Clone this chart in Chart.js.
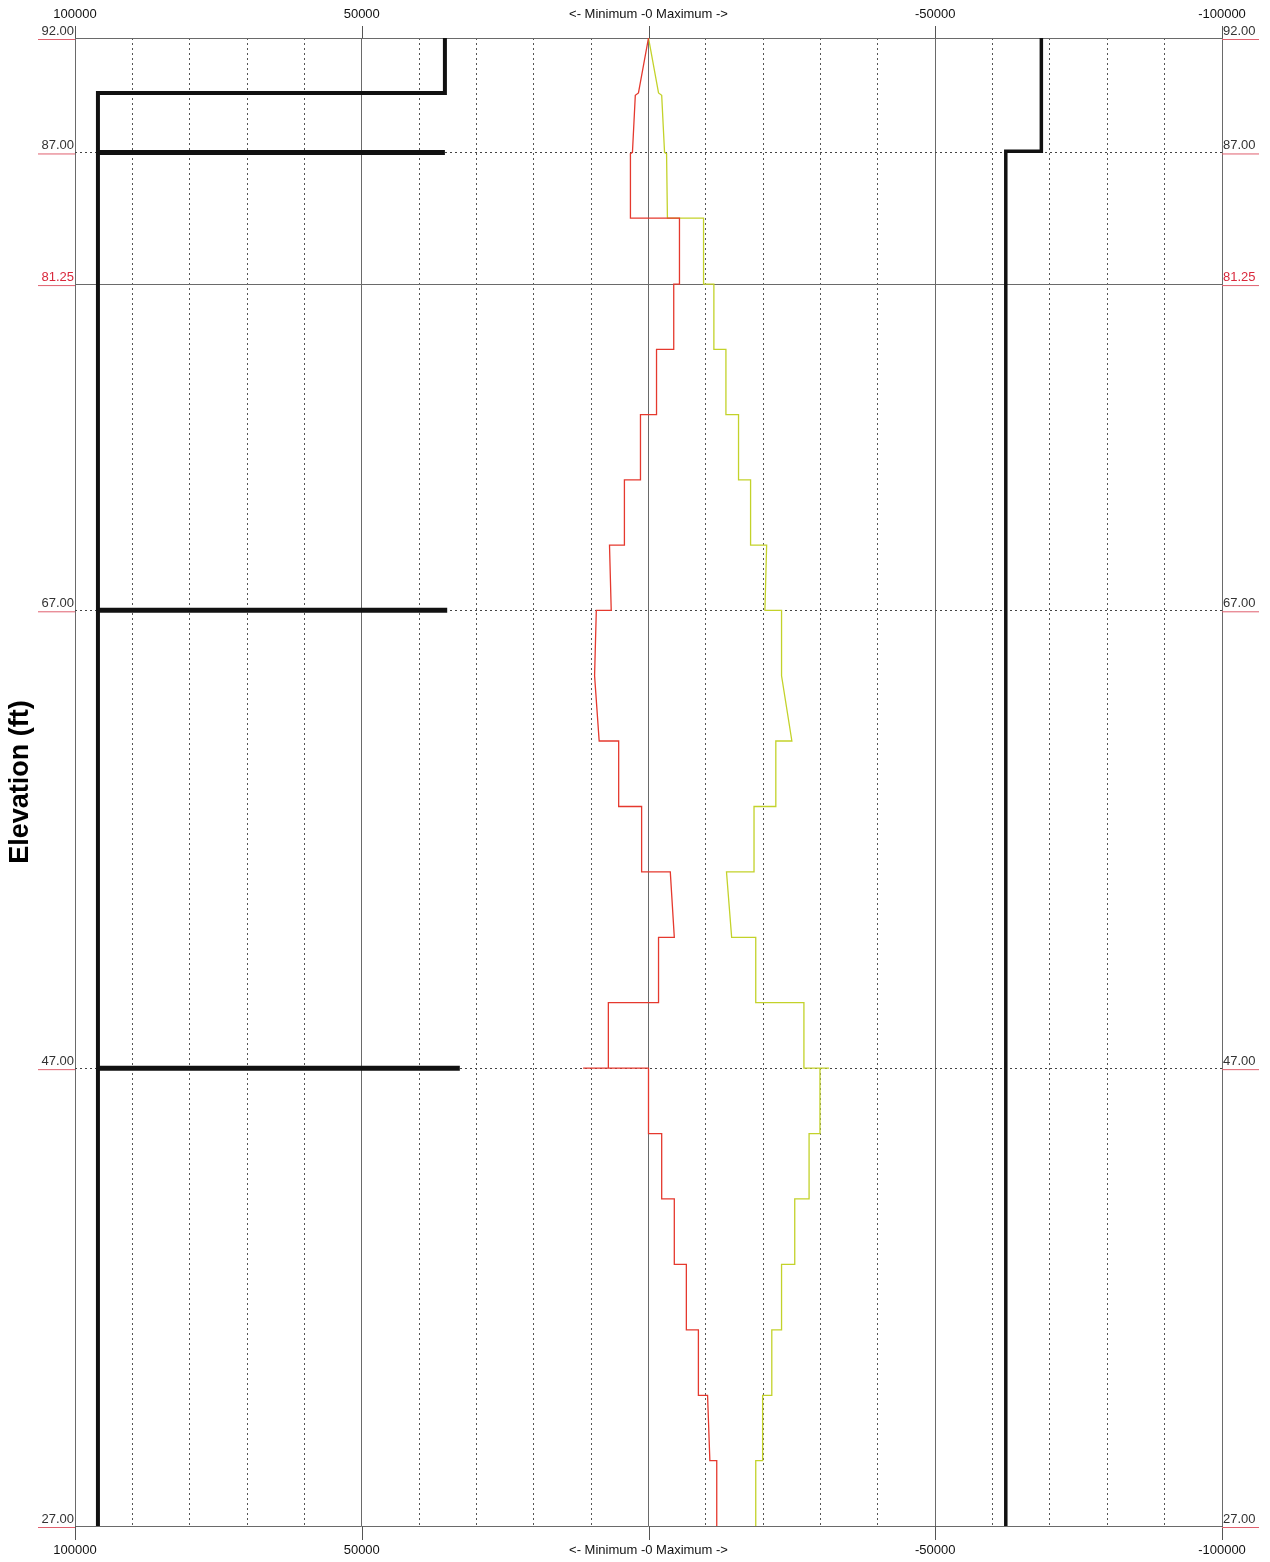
<!DOCTYPE html>
<html lang="en">
<head>
<meta charset="UTF-8">
<title>Elevation (ft)</title>
<script src="https://cdn.jsdelivr.net/npm/chart.js"></script>
<style>
  body { margin: 0; background: #fff; }
  .wrap { position: relative; width: 1270px; height: 1562px; }
</style>
</head>
<body>
<div class="wrap"><canvas id="chart"></canvas></div>
<script>
// axis ticks
const elevTicks = [27, 47, 67, 81.25, 87, 92];
const solidElev = [27, 81.25, 92];
const redElev = [81.25];
const xLabelTicks = [100000, 50000, 0, -50000, -100000];

// minimum envelope (red)
const minVal = [0, 1750, 2300, 2800, 3150, 3150, -5400, -5400, -4400, -4400, -1400, -1400, 1400, 1400,
  4200, 4200, 6800, 6500, 9100, 9400, 8600, 5200, 5200, 1200, 1200, -3800, -4500, -1750, -1750,
  7000, 7000, 11400, 0, 0, -2300, -2300, -4500, -4500, -6600, -6600, -8700, -8700, -10300, -10700,
  -11900, -11900];
const minElev = [92, 89.6, 89.5, 87, 86.95, 84.13, 84.13, 81.25, 81.25, 78.4, 78.4, 75.55, 75.55, 72.7,
  72.7, 69.85, 69.85, 67, 67, 64.14, 61.29, 61.29, 58.43, 58.43, 55.57, 55.57, 52.71, 52.71, 49.86,
  49.86, 47, 47, 47, 44.14, 44.14, 41.29, 41.29, 38.43, 38.43, 35.57, 35.57, 32.71, 32.71, 29.86,
  29.86, 27];

// maximum envelope (yellow-green)
const maxVal = [0, -1750, -2300, -2800, -3150, -3300, -9600, -9600, -11400, -11400, -13500, -13500,
  -15700, -15700, -17800, -17800, -20600, -20300, -23200, -23200, -25000, -22200, -22200, -18400,
  -18400, -13600, -14500, -18700, -18700, -27100, -27100, -31500, -29900, -29900, -28000, -28000,
  -25500, -25500, -23200, -23200, -21500, -21500, -19900, -19900, -18700, -18700];
const maxElev = [92, 89.6, 89.5, 87, 86.95, 84.13, 84.13, 81.25, 81.25, 78.4, 78.4, 75.55,
  75.55, 72.7, 72.7, 69.85, 69.85, 67, 67, 64.14, 61.29, 61.29, 58.43, 58.43,
  55.57, 55.57, 52.71, 52.71, 49.86, 49.86, 47, 47, 47, 44.14, 44.14, 41.29,
  41.29, 38.43, 38.43, 35.57, 35.57, 32.71, 32.71, 29.86, 29.86, 27];

// structure outlines (black)
const leftVal = [35500, 35500, 96000, 96000];
const leftElev = [92, 89.6, 89.6, 27];
const rightVal = [-68500, -68500, -62300, -62300];
const rightElev = [92, 87.05, 87.05, 27];
const barElev = [87, 67, 47];
const barStart = [96000, 96000, 96000];
const barEnd = [35500, 35100, 32900];

const pts = (xs, ys) => xs.map((v, i) => ({ x: v, y: ys[i] }));

const line = (data, color, width) => ({
    data: data,
    showLine: true,
    borderColor: color,
    borderWidth: width,
    pointRadius: 0,
    borderJoinStyle: 'miter',
    tension: 0
});

const datasets = [
    line(pts(minVal, minElev), '#e5392e', 1.3),
    line(pts(maxVal, maxElev), '#c3d22a', 1.3),
    line(pts(leftVal, leftElev), '#111', 4),
    line(pts(rightVal, rightElev), '#111', 3.5)
];
barElev.forEach((e, i) => {
    datasets.push(line(pts([barStart[i], barEnd[i]], [e, e]), '#111', 5));
});

const font = '"Liberation Sans", Arial, sans-serif';

const overlay = {
    id: 'overlay',
    afterDraw(chart) {
        const { ctx, chartArea: a, scales: { x, y } } = chart;
        ctx.save();

        // tick marks outside the frame
        ctx.strokeStyle = '#555';
        ctx.lineWidth = 1;
        xLabelTicks.forEach(v => {
            const px = Math.round(x.getPixelForValue(v)) + 0.5;
            ctx.beginPath();
            ctx.moveTo(px, a.top - 12);
            ctx.lineTo(px, a.top);
            ctx.moveTo(px, a.bottom);
            ctx.lineTo(px, a.bottom + 14);
            ctx.stroke();
        });

        // x labels, top and bottom
        ctx.font = '13px ' + font;
        ctx.fillStyle = '#111';
        ctx.textAlign = 'center';
        ctx.textBaseline = 'middle';
        xLabelTicks.forEach(v => {
            const px = x.getPixelForValue(v);
            const t = v === 0 ? '<- Minimum -0 Maximum ->' : String(v);
            ctx.fillText(t, px, a.top - 24);
            ctx.fillText(t, px, a.bottom + 24);
        });

        // elevation labels on both sides
        ctx.textBaseline = 'alphabetic';
        elevTicks.forEach(v => {
            const py = y.getPixelForValue(v);
            const t = v.toFixed(2);
            ctx.fillStyle = redElev.includes(v) ? '#d9283c' : '#333';
            ctx.textAlign = 'right';
            ctx.fillText(t, a.left - 1, py - 3);
            ctx.textAlign = 'left';
            ctx.fillText(t, a.right + 1, py - 3);
            ctx.strokeStyle = '#e0606e';
            ctx.beginPath();
            ctx.moveTo(a.left - 37, py + 1.5);
            ctx.lineTo(a.left, py + 1.5);
            ctx.moveTo(a.right, py + 1.5);
            ctx.lineTo(a.right + 37, py + 1.5);
            ctx.stroke();
        });

        // axis title
        ctx.translate(21, (a.top + a.bottom) / 2);
        ctx.rotate(-Math.PI / 2);
        ctx.font = 'bold 27px ' + font;
        ctx.fillStyle = '#000';
        ctx.textAlign = 'center';
        ctx.textBaseline = 'middle';
        ctx.fillText('Elevation (ft)', 0, 0);
        ctx.restore();
    }
};

new Chart(document.getElementById('chart'), {
    type: 'scatter',
    data: { datasets: datasets },
    plugins: [overlay],
    options: {
        responsive: true,
        maintainAspectRatio: false,
        animation: false,
        layout: { padding: { left: 75, right: 48, top: 38, bottom: 36 } },
        plugins: { legend: { display: false }, tooltip: { enabled: false } },
        scales: {
            x: {
                type: 'linear',
                reverse: true,
                min: -100000,
                max: 100000,
                ticks: { display: false, stepSize: 10000 },
                grid: {
                    drawTicks: false,
                    lineWidth: 1,
                    color: c => (c.tick && c.tick.value % 50000 === 0) ? '#6a6a6a' : '#555'
                },
                border: {
                    display: false,
                    dash: c => (c.tick && c.tick.value % 50000 === 0) ? [] : [2, 3]
                }
            },
            y: {
                type: 'linear',
                min: 27,
                max: 92,
                afterBuildTicks: s => { s.ticks = elevTicks.map(v => ({ value: v })); },
                ticks: { display: false },
                grid: {
                    drawTicks: false,
                    lineWidth: 1,
                    color: c => (c.tick && solidElev.includes(c.tick.value)) ? '#6a6a6a' : '#444'
                },
                border: {
                    display: false,
                    dash: c => (c.tick && solidElev.includes(c.tick.value)) ? [] : [2, 3]
                }
            }
        }
    }
});
</script>
</body>
</html>
